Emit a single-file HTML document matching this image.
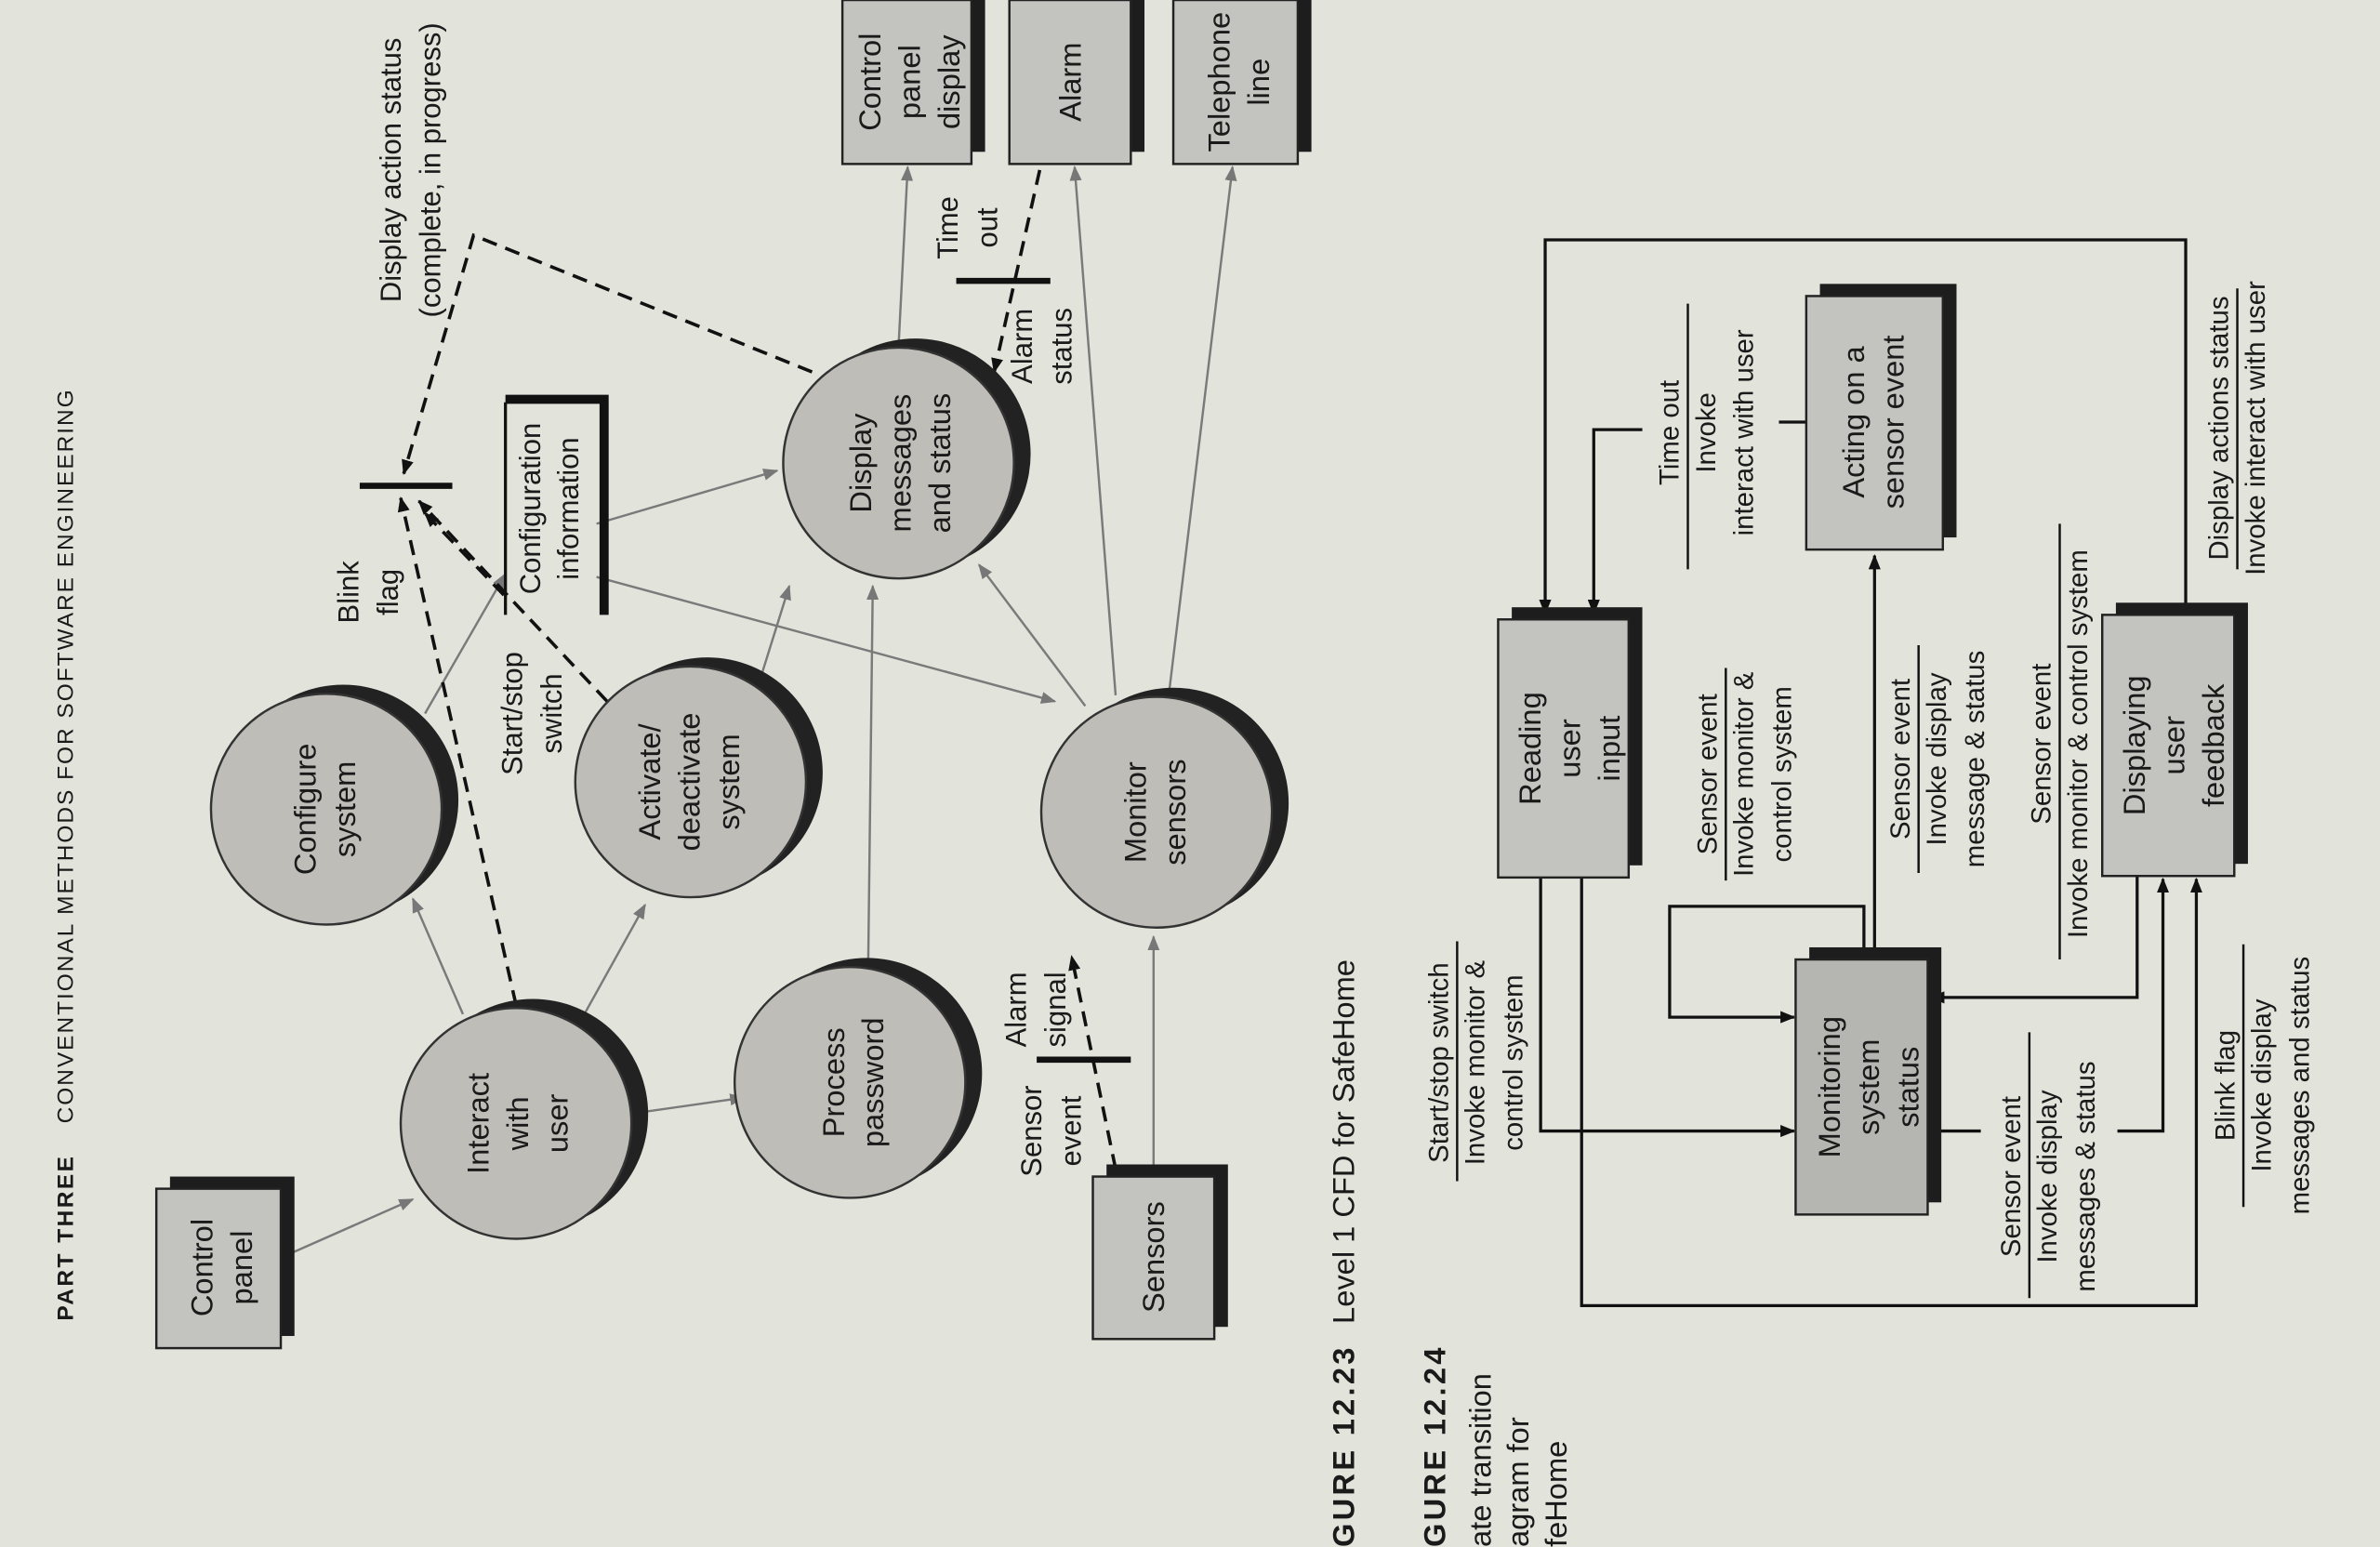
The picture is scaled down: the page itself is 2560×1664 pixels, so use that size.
<!DOCTYPE html>
<html><head><meta charset="utf-8"><style>
html,body{margin:0;padding:0;background:#e3e4dc;}
svg{display:block}
text{font-family:"Liberation Sans",sans-serif;fill:#1a1a1a}
</style></head><body>
<svg width="2560" height="1664" viewBox="0 0 1568 1019" preserveAspectRatio="none" xmlns="http://www.w3.org/2000/svg">
<defs>
<marker id="ag" markerWidth="10" markerHeight="8" refX="9" refY="4" orient="auto" markerUnits="userSpaceOnUse"><path d="M0,0 L10,4 L0,8 z" fill="#777"/></marker>
<marker id="ab" markerWidth="10" markerHeight="8" refX="9" refY="4" orient="auto" markerUnits="userSpaceOnUse"><path d="M0,0 L10,4 L0,8 z" fill="#111"/></marker>
</defs>
<rect width="1568" height="1019" fill="#e2e4dc"/>

<g font-size="15">
<text transform="translate(48,870) rotate(-90)" font-weight="bold" letter-spacing="1.5">PART THREE</text>
<text transform="translate(48,740) rotate(-90)" letter-spacing="1.2">CONVENTIONAL METHODS FOR SOFTWARE ENGINEERING</text>
</g>

<!-- gray data flows -->
<g stroke="#7a7a7a" stroke-width="1.5" fill="none" marker-end="url(#ag)">
<line x1="186" y1="828" x2="272" y2="790"/>
<line x1="305" y1="668" x2="272" y2="592"/>
<line x1="385" y1="668" x2="425" y2="596"/>
<line x1="420" y1="733" x2="490" y2="723"/>
<line x1="280" y1="470" x2="333" y2="378"/>
<line x1="500" y1="450" x2="520" y2="386"/>
<line x1="393" y1="345" x2="512" y2="310"/>
<line x1="393" y1="380" x2="695" y2="462"/>
<line x1="572" y1="635" x2="575" y2="386"/>
<line x1="760" y1="775" x2="760" y2="617"/>
<line x1="715" y1="465" x2="645" y2="372"/>
<line x1="592" y1="228" x2="598" y2="110"/>
<line x1="735" y1="458" x2="708" y2="110"/>
<line x1="770" y1="458" x2="812" y2="110"/>
</g>

<!-- dashed control flows -->
<g stroke="#111" stroke-width="2.2" fill="none" stroke-dasharray="10,6" marker-end="url(#ab)">
<line x1="340" y1="662" x2="264" y2="328"/>
<line x1="400" y1="462" x2="276" y2="330"/>
<line x1="332" y1="392" x2="280" y2="338"/>
<polyline points="535,245 312,155 266,312"/>
<line x1="735" y1="770" x2="706" y2="630"/>
<line x1="685" y1="112" x2="655" y2="245"/>
</g>
<g stroke="#111" stroke-width="4">
<line x1="237" y1="320" x2="298" y2="320"/>
<line x1="630" y1="185" x2="692" y2="185"/>
<line x1="683" y1="698" x2="745" y2="698"/>
</g>

<!-- config store -->
<g fill="none" stroke="#111">
<path d="M333,405 L333,265" stroke-width="2"/>
<path d="M333,263 L398,263 L398,405" stroke-width="6"/>
</g>
<g font-size="19" text-anchor="middle">
<text transform="translate(356,335) rotate(-90)">Configuration</text>
<text transform="translate(381,335) rotate(-90)">information</text>
</g>

<!-- circles -->
<g>
<circle cx="226" cy="527" r="76" fill="#222"/><circle cx="215" cy="533" r="76" fill="#bebdb8" stroke="#333" stroke-width="1.5"/>
<circle cx="466" cy="509" r="76" fill="#222"/><circle cx="455" cy="515" r="76" fill="#bebdb8" stroke="#333" stroke-width="1.5"/>
<circle cx="351" cy="734" r="76" fill="#222"/><circle cx="340" cy="740" r="76" fill="#bebdb8" stroke="#333" stroke-width="1.5"/>
<circle cx="571" cy="707" r="76" fill="#222"/><circle cx="560" cy="713" r="76" fill="#bebdb8" stroke="#333" stroke-width="1.5"/>
<circle cx="773" cy="529" r="76" fill="#222"/><circle cx="762" cy="535" r="76" fill="#bebdb8" stroke="#333" stroke-width="1.5"/>
<circle cx="603" cy="299" r="76" fill="#222"/><circle cx="592" cy="305" r="76" fill="#bebdb8" stroke="#333" stroke-width="1.5"/>
</g>
<g font-size="20" text-anchor="middle">
<text transform="translate(208,533) rotate(-90)">Configure</text>
<text transform="translate(234,533) rotate(-90)">system</text>
<text transform="translate(435,515) rotate(-90)">Activate/</text>
<text transform="translate(461,515) rotate(-90)">deactivate</text>
<text transform="translate(487,515) rotate(-90)">system</text>
<text transform="translate(322,740) rotate(-90)">Interact</text>
<text transform="translate(348,740) rotate(-90)">with</text>
<text transform="translate(374,740) rotate(-90)">user</text>
<text transform="translate(556,713) rotate(-90)">Process</text>
<text transform="translate(582,713) rotate(-90)">password</text>
<text transform="translate(755,535) rotate(-90)">Monitor</text>
<text transform="translate(781,535) rotate(-90)">sensors</text>
<text transform="translate(574,305) rotate(-90)">Display</text>
<text transform="translate(600,305) rotate(-90)">messages</text>
<text transform="translate(626,305) rotate(-90)">and status</text>
</g>

<!-- external boxes -->
<g>
<rect x="112" y="775" width="82" height="105" fill="#1d1d1d"/><rect x="103" y="783" width="82" height="105" fill="#c3c3bf" stroke="#222" stroke-width="1.5"/>
<rect x="729" y="767" width="80" height="107" fill="#1d1d1d"/><rect x="720" y="775" width="80" height="107" fill="#c3c3bf" stroke="#222" stroke-width="1.5"/>
<rect x="564" y="-8" width="85" height="108" fill="#1d1d1d"/><rect x="555" y="0" width="85" height="108" fill="#c3c3bf" stroke="#222" stroke-width="1.5"/>
<rect x="674" y="-8" width="80" height="108" fill="#1d1d1d"/><rect x="665" y="0" width="80" height="108" fill="#c3c3bf" stroke="#222" stroke-width="1.5"/>
<rect x="782" y="-8" width="82" height="108" fill="#1d1d1d"/><rect x="773" y="0" width="82" height="108" fill="#c3c3bf" stroke="#222" stroke-width="1.5"/>
</g>
<g font-size="20" text-anchor="middle">
<text transform="translate(140,835) rotate(-90)">Control</text>
<text transform="translate(166,835) rotate(-90)">panel</text>
<text transform="translate(767,828) rotate(-90)">Sensors</text>
<text transform="translate(580,54) rotate(-90)">Control</text>
<text transform="translate(606,54) rotate(-90)">panel</text>
<text transform="translate(632,54) rotate(-90)">display</text>
<text transform="translate(712,54) rotate(-90)">Alarm</text>
<text transform="translate(810,54) rotate(-90)">Telephone</text>
<text transform="translate(836,54) rotate(-90)">line</text>
</g>

<!-- flow labels -->
<g font-size="19" text-anchor="middle">
<text transform="translate(236,390) rotate(-90)">Blink</text>
<text transform="translate(262,390) rotate(-90)">flag</text>
<text transform="translate(344,470) rotate(-90)">Start/stop</text>
<text transform="translate(370,470) rotate(-90)">switch</text>
<text transform="translate(264,112) rotate(-90)">Display action status</text>
<text transform="translate(290,112) rotate(-90)">(complete, in progress)</text>
<text transform="translate(631,150) rotate(-90)">Time</text>
<text transform="translate(657,150) rotate(-90)">out</text>
<text transform="translate(680,228) rotate(-90)">Alarm</text>
<text transform="translate(706,228) rotate(-90)">status</text>
<text transform="translate(676,665) rotate(-90)">Alarm</text>
<text transform="translate(702,665) rotate(-90)">signal</text>
<text transform="translate(686,745) rotate(-90)">Sensor</text>
<text transform="translate(712,745) rotate(-90)">event</text>
</g>

<!-- captions -->
<g font-size="20">
<text transform="translate(892,1019) rotate(-90)" font-weight="bold" letter-spacing="2">GURE 12.23</text>
<text transform="translate(892,872) rotate(-90)">Level 1 CFD for SafeHome</text>
<text transform="translate(952,1019) rotate(-90)" font-weight="bold" letter-spacing="2">GURE 12.24</text>
<text transform="translate(982,1019) rotate(-90)">ate transition</text>
<text transform="translate(1007,1019) rotate(-90)">agram for</text>
<text transform="translate(1032,1019) rotate(-90)">feHome</text>
</g>

<!-- STD lines -->
<g stroke="#111" stroke-width="2" fill="none" marker-end="url(#ab)">
<polyline points="1440,405 1440,158 1018,158 1018,404"/>
<polyline points="1082,283 1050,283 1050,404"/>
<polyline points="1015,578 1015,745 1182,745"/>
<polyline points="1228,632 1228,597 1100,597 1100,670 1182,670"/>
<polyline points="1235,632 1235,366"/>
<polyline points="1042,578 1042,860 1447,860 1447,579"/>
<polyline points="1395,745 1425,745 1425,579"/>
<polyline points="1408,577 1408,657 1272,657"/>
</g>
<g stroke="#111" stroke-width="2">
<line x1="1172" y1="278" x2="1190" y2="278"/>
<line x1="1270" y1="745" x2="1305" y2="745"/>
</g>

<!-- STD boxes -->
<g>
<rect x="996" y="400" width="86" height="170" fill="#1d1d1d"/><rect x="987" y="408" width="86" height="170" fill="#c3c3bf" stroke="#222" stroke-width="1.5"/>
<rect x="1192" y="624" width="87" height="168" fill="#1d1d1d"/><rect x="1183" y="632" width="87" height="168" fill="#b5b5b1" stroke="#222" stroke-width="1.5"/>
<rect x="1199" y="187" width="90" height="167" fill="#1d1d1d"/><rect x="1190" y="195" width="90" height="167" fill="#c3c3bf" stroke="#222" stroke-width="1.5"/>
<rect x="1394" y="397" width="87" height="172" fill="#1d1d1d"/><rect x="1385" y="405" width="87" height="172" fill="#c3c3bf" stroke="#222" stroke-width="1.5"/>
</g>
<g font-size="20" text-anchor="middle">
<text transform="translate(1015,493) rotate(-90)">Reading</text>
<text transform="translate(1041,493) rotate(-90)">user</text>
<text transform="translate(1067,493) rotate(-90)">input</text>
<text transform="translate(1212,716) rotate(-90)">Monitoring</text>
<text transform="translate(1238,716) rotate(-90)">system</text>
<text transform="translate(1264,716) rotate(-90)">status</text>
<text transform="translate(1228,278) rotate(-90)">Acting on a</text>
<text transform="translate(1254,278) rotate(-90)">sensor event</text>
<text transform="translate(1413,491) rotate(-90)">Displaying</text>
<text transform="translate(1439,491) rotate(-90)">user</text>
<text transform="translate(1465,491) rotate(-90)">feedback</text>
</g>

<!-- STD labels -->
<g stroke="#111" stroke-width="1.5">
<line x1="960" y1="620" x2="960" y2="778"/>
<line x1="1137" y1="440" x2="1137" y2="580"/>
<line x1="1112" y1="200" x2="1112" y2="375"/>
<line x1="1264" y1="425" x2="1264" y2="575"/>
<line x1="1357" y1="345" x2="1357" y2="632"/>
<line x1="1474" y1="190" x2="1474" y2="375"/>
<line x1="1337" y1="680" x2="1337" y2="855"/>
<line x1="1478" y1="622" x2="1478" y2="795"/>
</g>
<g font-size="18" text-anchor="middle">
<text transform="translate(954,700) rotate(-90)">Start/stop switch</text>
<text transform="translate(978,700) rotate(-90)">Invoke monitor &amp;</text>
<text transform="translate(1003,700) rotate(-90)">control system</text>
<text transform="translate(1131,510) rotate(-90)">Sensor event</text>
<text transform="translate(1155,510) rotate(-90)">Invoke monitor &amp;</text>
<text transform="translate(1180,510) rotate(-90)">control system</text>
<text transform="translate(1106,285) rotate(-90)">Time out</text>
<text transform="translate(1130,285) rotate(-90)">Invoke</text>
<text transform="translate(1155,285) rotate(-90)">interact with user</text>
<text transform="translate(1258,500) rotate(-90)">Sensor event</text>
<text transform="translate(1282,500) rotate(-90)">Invoke display</text>
<text transform="translate(1307,500) rotate(-90)">message &amp; status</text>
<text transform="translate(1351,490) rotate(-90)">Sensor event</text>
<text transform="translate(1375,490) rotate(-90)">Invoke monitor &amp; control system</text>
<text transform="translate(1468,282) rotate(-90)">Display actions status</text>
<text transform="translate(1492,282) rotate(-90)">Invoke interact with user</text>
<text transform="translate(1331,775) rotate(-90)">Sensor event</text>
<text transform="translate(1355,775) rotate(-90)">Invoke display</text>
<text transform="translate(1380,775) rotate(-90)">messages &amp; status</text>
<text transform="translate(1472,715) rotate(-90)">Blink flag</text>
<text transform="translate(1496,715) rotate(-90)">Invoke display</text>
<text transform="translate(1521,715) rotate(-90)">messages and status</text>
</g>
</svg>
</body></html>
